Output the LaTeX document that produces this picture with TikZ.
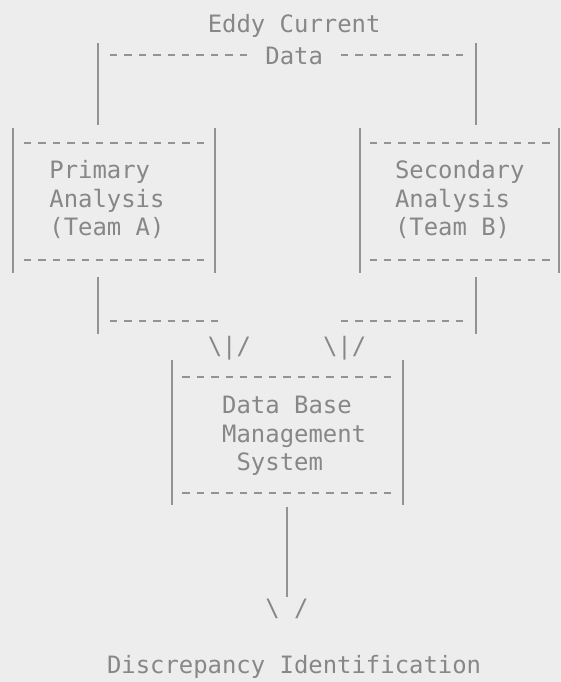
\documentclass[tikz,border=0pt]{standalone}
\usepackage{fontspec}
\newfontfamily\ddmono{DejaVu Sans Mono}
\newcommand\mytt{\ddmono\fontsize{23.9}{29}\selectfont}
\definecolor{bgc}{HTML}{EDEDED}
\definecolor{inkc}{HTML}{878787}
\definecolor{linec}{HTML}{939393}
\begin{document}
\begin{tikzpicture}[x=1pt,y=-1pt,
  txt/.style={font=\mytt, text=inkc, inner sep=0pt, anchor=base west},
  bar/.style={draw=linec, line width=1.5pt},
  dline/.style={draw=linec, line width=1.6pt, dash pattern=on 7.4pt off 7pt}]
\fill[bgc] (0,0) rectangle (561,682);
\useasboundingbox (0,0) rectangle (561,682);

% source
\node[txt] (ec) at (207.6,33) {Eddy Current};
\node[txt] (data) at (265.2,65) {Data};
\coordinate (tl) at (98,43);  \coordinate (tlb) at (98,125);
\coordinate (tr) at (476,43); \coordinate (trb) at (476,125);
\draw[bar] (tl) -- (tlb);
\draw[bar] (tr) -- (trb);
\draw[dline] (110,55) -- (247,55);
\draw[dline] (340.7,55) -- (464,55);

% primary box
\draw[bar] (13,128) -- (13,273);
\draw[bar] (215,128) -- (215,273);
\draw[dline] (23.9,143) -- (204,143);
\draw[dline] (23.9,260) -- (204,260);
\node[txt] (pa1) at (49.2,178) {Primary};
\node[txt] (pa2) at (49.2,207) {Analysis};
\node[txt] (pa3) at (49.2,235) {(Team A)};

% secondary box
\draw[bar] (360,128) -- (360,273);
\draw[bar] (559,128) -- (559,273);
\draw[dline] (369.5,143) -- (550,143);
\draw[dline] (369.5,260) -- (550,260);
\node[txt] (sa1) at (394.8,178) {Secondary};
\node[txt] (sa2) at (394.8,207) {Analysis};
\node[txt] (sa3) at (394.8,235) {(Team B)};

% merge
\draw[bar] (98,277) -- (98,334);
\draw[bar] (476,277) -- (476,334);
\draw[dline] (110,321) -- (218.5,321);
\draw[dline] (340.7,321) -- (464,321);
\node[txt] (arrL) at (207.6,354) {\textbackslash|/};
\node[txt] (arrR) at (322.8,354) {\textbackslash|/};

% DBMS box
\draw[bar] (172,360) -- (172,505);
\draw[bar] (403,360) -- (403,505);
\draw[dline] (182.3,377) -- (392,377);
\draw[dline] (182.3,493) -- (392,493);
\node[txt] (db1) at (222,413) {Data Base};
\node[txt] (db2) at (222,442) {Management};
\node[txt] (db3) at (236.4,470) {System};

% output
\coordinate (st) at (287,507);
\coordinate (sb) at (287,597);
\draw[bar] (st) -- (sb);
\node[txt] (arrD) at (265.2,616) {\textbackslash{} /};
\node[txt] (out) at (106.8,673) {Discrepancy Identification};
\end{tikzpicture}
\end{document}
